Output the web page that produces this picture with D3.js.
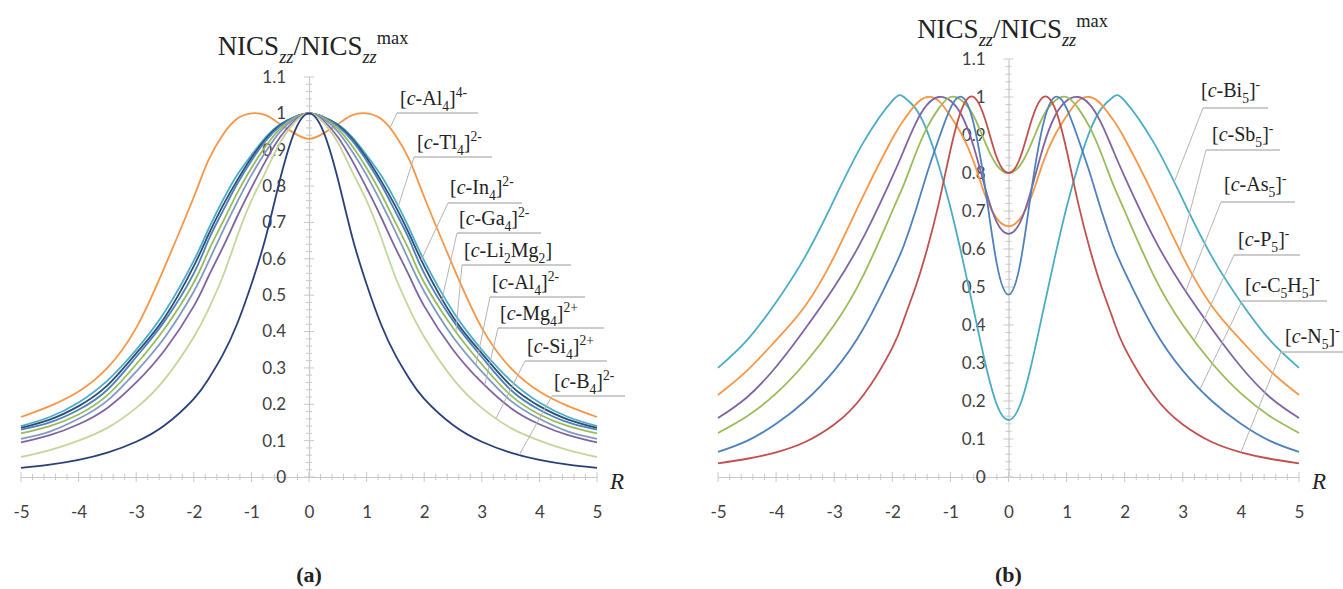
<!DOCTYPE html>
<html>
<head>
<meta charset="utf-8">
<script src="https://cdnjs.cloudflare.com/ajax/libs/d3/7.8.5/d3.min.js"></script>
<style>
  body { margin: 0; background: #fff; }
  svg text { font-family: "Liberation Serif", "Times New Roman", serif; fill: #222; }
  .tick text { font-family: Lato, "Liberation Sans", sans-serif; font-size: 17px; fill: #404040; }
</style>
</head>
<body>
<div id="chart"></div>
<script>
// ---- data (a) : 4-membered rings ----
var rA = [-5,-4.5,-4,-3.5,-3,-2.5,-2,-1.75,-1.5,-1.25,-1,-0.75,-0.5,-0.25,0,0.25,0.5,0.75,1,1.25,1.5,1.75,2,2.5,3,3.5,4,4.5,5];

var al4_4m  = [0.165,0.195,0.235,0.30,0.41,0.58,0.77,0.87,0.94,0.985,1.0,0.995,0.97,0.945,0.93,0.945,0.97,0.995,1.0,0.985,0.94,0.87,0.77,0.58,0.41,0.30,0.235,0.195,0.165];
var tl4     = [0.14,0.165,0.205,0.265,0.35,0.455,0.595,0.68,0.76,0.83,0.885,0.935,0.97,0.99,1.0,0.99,0.97,0.935,0.885,0.83,0.76,0.68,0.595,0.455,0.35,0.265,0.205,0.165,0.14];
var in4     = [0.135,0.158,0.195,0.252,0.34,0.44,0.58,0.665,0.745,0.815,0.878,0.93,0.968,0.99,1.0,0.99,0.968,0.93,0.878,0.815,0.745,0.665,0.58,0.44,0.34,0.252,0.195,0.158,0.135];
var ga4     = [0.13,0.15,0.185,0.24,0.33,0.43,0.56,0.65,0.73,0.805,0.87,0.925,0.965,0.99,1.0,0.99,0.965,0.925,0.87,0.805,0.73,0.65,0.56,0.43,0.33,0.24,0.185,0.15,0.13];
var li2mg2  = [0.12,0.14,0.172,0.225,0.31,0.41,0.535,0.62,0.70,0.78,0.85,0.91,0.958,0.988,1.0,0.988,0.958,0.91,0.85,0.78,0.70,0.62,0.535,0.41,0.31,0.225,0.172,0.14,0.12];
var al4_2m  = [0.105,0.125,0.16,0.21,0.29,0.385,0.51,0.59,0.675,0.755,0.83,0.895,0.95,0.985,1.0,0.985,0.95,0.895,0.83,0.755,0.675,0.59,0.51,0.385,0.29,0.21,0.16,0.125,0.105];
var mg4     = [0.095,0.115,0.145,0.19,0.26,0.35,0.47,0.55,0.63,0.715,0.795,0.87,0.935,0.98,1.0,0.98,0.935,0.87,0.795,0.715,0.63,0.55,0.47,0.35,0.26,0.19,0.145,0.115,0.095];
var si4     = [0.055,0.074,0.1,0.135,0.19,0.27,0.385,0.46,0.55,0.66,0.76,0.84,0.92,0.975,1.0,0.975,0.92,0.84,0.76,0.66,0.55,0.46,0.385,0.27,0.19,0.135,0.1,0.074,0.055];
var b4      = [0.025,0.034,0.047,0.067,0.097,0.143,0.215,0.268,0.335,0.42,0.53,0.66,0.82,0.95,1.0,0.95,0.82,0.66,0.53,0.42,0.335,0.268,0.215,0.143,0.097,0.067,0.047,0.034,0.025];

// ---- data (b) : 5-membered rings ----
var rB = [-5,-4.5,-4,-3.5,-3,-2.5,-2,-1.8,-1.6,-1.4,-1.2,-1,-0.8,-0.6,-0.4,-0.2,0,0.2,0.4,0.6,0.8,1,1.2,1.4,1.6,1.8,2,2.5,3,3.5,4,4.5,5];

var bi5   = [0.287,0.36,0.46,0.58,0.73,0.88,0.99,1.0,0.97,0.91,0.82,0.71,0.58,0.44,0.30,0.19,0.15,0.19,0.30,0.44,0.58,0.71,0.82,0.91,0.97,1.0,0.99,0.88,0.73,0.58,0.46,0.36,0.287];
var sb5   = [0.216,0.28,0.36,0.45,0.58,0.74,0.89,0.94,0.98,1.0,0.99,0.95,0.90,0.83,0.74,0.68,0.66,0.68,0.74,0.83,0.90,0.95,0.99,1.0,0.98,0.94,0.89,0.74,0.58,0.45,0.36,0.28,0.216];
var as5   = [0.155,0.21,0.29,0.39,0.50,0.63,0.79,0.86,0.93,0.98,1.0,0.99,0.95,0.87,0.76,0.67,0.64,0.67,0.76,0.87,0.95,0.99,1.0,0.98,0.93,0.86,0.79,0.63,0.50,0.39,0.29,0.21,0.155];
var p5    = [0.116,0.16,0.22,0.30,0.40,0.53,0.70,0.77,0.85,0.92,0.97,1.0,0.99,0.95,0.88,0.82,0.80,0.82,0.88,0.95,0.99,1.0,0.97,0.92,0.85,0.77,0.70,0.53,0.40,0.30,0.22,0.16,0.116];
var c5h5  = [0.066,0.095,0.14,0.2,0.28,0.39,0.54,0.61,0.70,0.80,0.89,0.97,1.0,0.93,0.76,0.56,0.48,0.56,0.76,0.93,1.0,0.97,0.89,0.80,0.70,0.61,0.54,0.39,0.28,0.2,0.14,0.095,0.066];
var n5    = [0.036,0.048,0.065,0.092,0.138,0.215,0.34,0.415,0.50,0.60,0.72,0.86,0.97,1.0,0.94,0.84,0.80,0.84,0.94,1.0,0.97,0.86,0.72,0.60,0.50,0.415,0.34,0.215,0.138,0.092,0.065,0.048,0.036];

var xTicks = [-5,-4,-3,-2,-1,0,1,2,3,4,5];
var yTicks = [0,0.1,0.2,0.3,0.4,0.5,0.6,0.7,0.8,0.9,1,1.1];

// label parts: [text, style]  style: "" | "i" | "sub" | "sup"
var seriesA = [
  {v: al4_4m, color: "#F79646", at: 1.4,  label: [["[",""],["c","i"],["-Al",""],["4","sub"],["]",""],["4-","sup"]]},
  {v: tl4,    color: "#4BACC6", at: 1.55, label: [["[",""],["c","i"],["-Tl",""],["4","sub"],["]",""],["2-","sup"]]},
  {v: in4,    color: "#2C4D75", at: 1.95, label: [["[",""],["c","i"],["-In",""],["4","sub"],["]",""],["2-","sup"]]},
  {v: ga4,    color: "#4F81BD", at: 2.3,  label: [["[",""],["c","i"],["-Ga",""],["4","sub"],["]",""],["2-","sup"]]},
  {v: li2mg2, color: "#9BBB59", at: 2.55, label: [["[",""],["c","i"],["-Li",""],["2","sub"],["Mg",""],["2","sub"],["]",""]]},
  {v: al4_2m, color: "#7E9BC8", at: 2.9,  label: [["[",""],["c","i"],["-Al",""],["4","sub"],["]",""],["2-","sup"]]},
  {v: mg4,    color: "#8064A2", at: 3.05, label: [["[",""],["c","i"],["-Mg",""],["4","sub"],["]",""],["2+","sup"]]},
  {v: si4,    color: "#C3D69B", at: 3.25, label: [["[",""],["c","i"],["-Si",""],["4","sub"],["]",""],["2+","sup"]]},
  {v: b4,     color: "#283F7A", at: 3.65, label: [["[",""],["c","i"],["-B",""],["4","sub"],["]",""],["2-","sup"]]}
];
var seriesB = [
  {v: bi5,  color: "#4BACC6", at: 2.85, label: [["[",""],["c","i"],["-Bi",""],["5","sub"],["]",""],["-","sup"]]},
  {v: sb5,  color: "#F79646", at: 2.95, label: [["[",""],["c","i"],["-Sb",""],["5","sub"],["]",""],["-","sup"]]},
  {v: as5,  color: "#8064A2", at: 3.05, label: [["[",""],["c","i"],["-As",""],["5","sub"],["]",""],["-","sup"]]},
  {v: p5,   color: "#9BBB59", at: 3.2,  label: [["[",""],["c","i"],["-P",""],["5","sub"],["]",""],["-","sup"]]},
  {v: c5h5, color: "#4F81BD", at: 3.3,  label: [["[",""],["c","i"],["-C",""],["5","sub"],["H",""],["5","sub"],["]",""],["-","sup"]]},
  {v: n5,   color: "#C0504D", at: 4.0,  label: [["[",""],["c","i"],["-N",""],["5","sub"],["]",""],["-","sup"]]}
];

// label layout: text x, baseline, underline y, underline x1, x2
var layoutA = [
  [400,105,113,397,478],
  [417,149,157,414,492],
  [450,194,203,448,522],
  [459,225,233,457,541],
  [464,257,265,462,571],
  [492,289,297,490,585],
  [500,320,328,498,604],
  [527,353,361,525,607],
  [554,388,396,552,625]
];
var layoutB = [
  [1201,97,108,1203,1268],
  [1212,141,150,1206,1280],
  [1224,191,202,1221,1295],
  [1238,246,255,1234,1300],
  [1245,292,301,1242,1327],
  [1285,343,352,1281,1343]
];

var W = 1343, H = 589;
var svg = d3.select("#chart").append("svg").attr("width", W).attr("height", H);

function rich(sel, parts, size) {
  var shift = 0;
  parts.forEach(function(p) {
    var target = p[1] === "sub" ? size * 0.28 : (p[1] === "sup" ? -size * 0.42 : 0);
    var t = sel.append("tspan").text(p[0]).attr("dy", target - shift);
    shift = target;
    if (p[1] === "sub" || p[1] === "sup") t.style("font-size", (size * 0.68) + "px");
    if (p[1] === "i") t.style("font-style", "italic");
  });
}

function panel(opt) {
  var x = d3.scaleLinear().domain([-5, 5]).range(opt.xr);
  var y = d3.scaleLinear().domain([0, 1.1]).range(opt.yr);
  var g = svg.append("g");
  var axisCol = "#C8C8C8";

  // minor / major cross ticks
  d3.range(-5, 5.0001, 0.2).forEach(function(t) {
    var major = Math.abs(t - Math.round(t)) < 1e-6;
    var len = major ? 5 : 3;
    g.append("line").attr("x1", x(t)).attr("x2", x(t))
      .attr("y1", y(0) - len).attr("y2", y(0) + len)
      .attr("stroke", axisCol).attr("stroke-width", 1);
  });
  d3.range(0, 1.1001, 0.02).forEach(function(t) {
    var major = Math.abs(t * 10 - Math.round(t * 10)) < 1e-6;
    var len = major ? 5 : 3;
    g.append("line").attr("x1", x(0) - len).attr("x2", x(0) + len)
      .attr("y1", y(t)).attr("y2", y(t))
      .attr("stroke", axisCol).attr("stroke-width", 1);
  });

  // axis lines + labels through d3 axes
  var xa = g.append("g").attr("transform", "translate(0," + y(0) + ")")
    .call(d3.axisBottom(x).tickValues(xTicks).tickSize(0).tickPadding(29)
      .tickFormat(function(d) { return String(d); }));
  xa.select(".domain").attr("stroke", axisCol).attr("stroke-width", 1.2);

  var ya = g.append("g").attr("transform", "translate(" + x(0) + ",0)")
    .call(d3.axisLeft(y).tickValues(yTicks).tickSize(0).tickPadding(23)
      .tickFormat(function(d) { return String(+d.toFixed(1)); }));
  ya.select(".domain").attr("stroke", axisCol).attr("stroke-width", 1.2);

  // curves
  opt.series.forEach(function(s) {
    var pts = opt.r.map(function(r, i) { return [r, s.v[i]]; });
    g.append("path").datum(pts)
      .attr("fill", "none").attr("stroke", s.color).attr("stroke-width", 1.8)
      .attr("d", d3.line().x(function(d) { return x(d[0]); })
        .y(function(d) { return y(d[1]); })
        .curve(d3.curveNatural));
  });

  // callout labels with underline and leader line
  opt.series.forEach(function(s, i) {
    var L = opt.layout[i];
    var onCurve = d3.scaleLinear().domain(opt.r).range(s.v);
    g.append("line").attr("x1", L[3]).attr("x2", L[4]).attr("y1", L[2]).attr("y2", L[2])
      .attr("stroke", "#BBBBBB").attr("stroke-width", 1.4);
    g.append("line").attr("x1", L[3]).attr("y1", L[2])
      .attr("x2", x(s.at)).attr("y2", y(onCurve(s.at)))
      .attr("stroke", "#B4B4B4").attr("stroke-width", 1);
    var t = g.append("text").attr("x", L[0]).attr("y", L[1]).style("font-size", "20px");
    rich(t, s.label, 20);
  });

  // title
  var tt = g.append("text").attr("x", x(0) + 4).attr("y", opt.titleY)
    .attr("text-anchor", "middle").style("font-size", "27px");
  rich(tt, [["NICS",""],["zz","sub"],["/NICS",""],["zz","sub"],["max","sup"]], 27);
  tt.selectAll("tspan").filter(function() { return d3.select(this).text() === "zz"; })
    .style("font-style", "italic");

  g.append("text").attr("x", opt.xr[1] + 13).attr("y", y(0) + 12)
    .style("font-size", "23px").style("font-style", "italic").text("R");

  g.append("text").attr("x", x(0)).attr("y", 582).attr("text-anchor", "middle")
    .style("font-size", "22px").style("font-weight", "bold").text(opt.tag);
}

panel({r: rA, series: seriesA, layout: layoutA, xr: [21, 597], yr: [477, 77], titleY: 55, tag: "(a)"});
panel({r: rB, series: seriesB, layout: layoutB, xr: [718, 1299], yr: [477, 59], titleY: 38, tag: "(b)"});
</script>
</body>
</html>
